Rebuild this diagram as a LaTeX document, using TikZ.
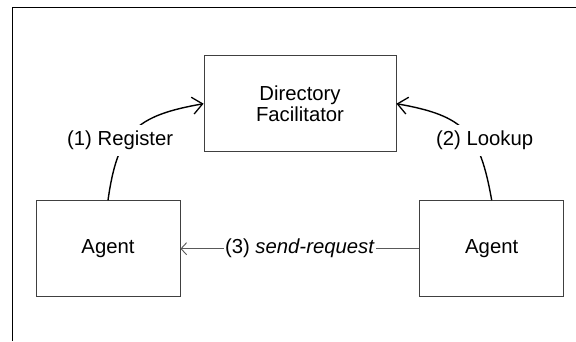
\documentclass[tikz,border=0pt]{standalone}
\usepackage{fontspec}
\setmainfont{Liberation Sans}
\usetikzlibrary{positioning, arrows.meta}

\begin{document}
\begin{tikzpicture}[x=1pt, y=1pt, on grid,
    every node/.style={font=\fontsize{20.3}{21.5}\selectfont},
    box/.style={draw=black!75, line width=0.9pt, minimum width=144pt, minimum height=96pt, align=center},
    curvy/.style={line width=1.4pt, -{Straight Barb[length=10pt,width=17pt,line width=1.3pt]}},
    straight/.style={draw=black!65, line width=0.9pt, -{Straight Barb[length=5.5pt,width=12pt,line width=0.9pt]}},
    lbl/.style={fill=white, inner xsep=2pt, inner ysep=6pt}]
  \useasboundingbox (0,0) rectangle (576,341);
  % frame
  \draw[line width=0.9pt] (12.7,0) -- (12.7,333.7) -- (576,333.7);
  \node[box, minimum width=192pt] (df) at (300,237.3) {Directory\\Facilitator};
  \node[box, below left=145pt and 192pt of df] (a1) {Agent};
  \node[box, below right=145pt and 191.7pt of df] (a2) {Agent};
  \path (a1.north) edge[curvy, out=82, in=190, looseness=1.3] node[lbl, pos=0.4, xshift=-6pt] {(1) Register} (df.west);
  \path (a2.north) edge[curvy, out=100, in=-10, looseness=1.3] node[lbl, pos=0.4, xshift=12pt] {(2) Lookup} (df.east);
  \path (a2) edge[straight] node[lbl, inner ysep=1pt, inner xsep=1.5pt] {(3) \textit{send-request}} (a1);
\end{tikzpicture}
\end{document}
